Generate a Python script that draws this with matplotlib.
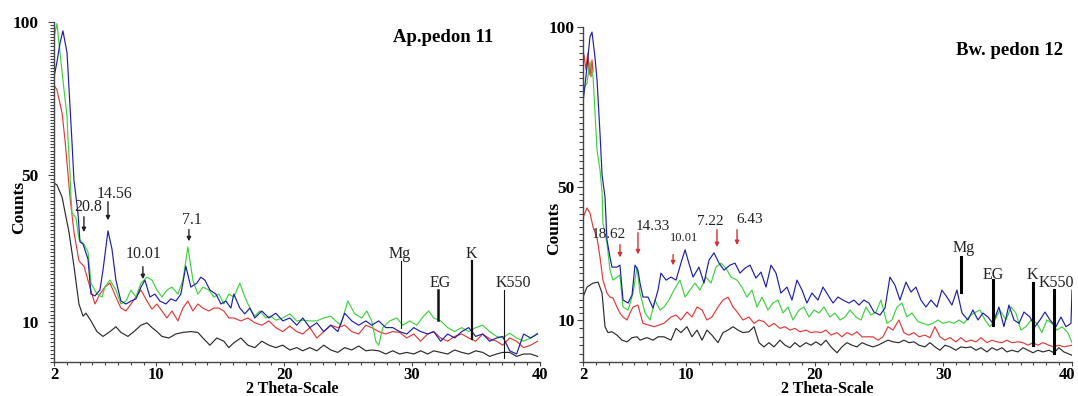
import numpy as np
import matplotlib
matplotlib.use("Agg")
import matplotlib.pyplot as plt
from matplotlib.ticker import FixedLocator, MultipleLocator
from matplotlib.transforms import ScaledTranslation

plt.rcParams['font.family'] = ['Liberation Serif', 'DejaVu Serif']

# ---------------- data : (2theta, counts) ----------------
# Ap. pedon 11
blue_11 = [(2.0,82.0),(2.23,86.9),(2.47,93.1),(2.7,97.1),(3.02,89.9),(3.41,60.5),(3.56,48.6),(3.88,39.4),(4.03,31.8),(4.27,31.2),(4.66,27.1),(4.89,17.6),(5.2,17.1),(5.59,18.7),(5.83,24.1),(6.22,34.8),(6.53,29.9),(6.84,21.4),(7.23,15.7),(7.63,14.9),(8.02,15.7),(8.41,16.3),(8.8,19.5),(9.11,21.4),(9.5,16.8),(9.89,17.6),(10.28,15.7),(10.75,14.9),(11.14,16.3),(11.53,15.7),(11.92,17.6),(12.31,25.2),(12.7,19.5),(13.17,20.6),(13.48,22.2),(13.8,21.4),(14.19,18.7),(14.66,17.6),(15.05,14.9),(15.44,15.7),(15.83,13.8),(16.06,17.6),(16.53,13.8),(16.92,12.2),(17.31,13.8),(17.7,11.1),(18.25,13.0),(18.8,11.1),(19.34,12.4),(19.89,10.3),(20.44,11.1),(20.98,9.6),(21.45,11.1),(22.0,9.3),(22.55,9.9),(23.09,8.8),(23.64,9.6),(24.19,8.8),(24.73,12.4),(25.28,10.3),(25.83,9.6),(26.38,10.3),(26.84,9.6),(27.39,10.3),(27.94,9.3),(28.48,9.3),(29.03,8.8),(29.58,8.5),(30.13,9.3),(30.67,8.8),(31.22,8.5),(31.69,8.8),(32.23,7.6),(32.78,8.5),(33.33,8.0),(33.88,8.8),(34.42,9.3),(34.97,8.2),(35.52,8.5),(36.06,7.6),(36.61,8.0),(37.08,8.2),(37.63,6.4),(38.17,6.0),(38.72,8.5),(39.27,8.0),(39.81,8.5)]
green_11 = [(2.0,95.0),(2.23,99.5),(2.47,89.9),(2.7,81.0),(3.02,69.0),(3.11,60.5),(3.25,50.6),(3.33,44.0),(3.41,39.7),(3.72,38.3),(3.95,32.6),(4.34,31.2),(4.66,29.0),(4.89,20.6),(5.36,17.6),(5.75,16.8),(5.98,19.5),(6.38,21.4),(6.84,18.7),(7.23,14.9),(7.63,15.7),(8.02,18.7),(8.41,16.8),(8.8,20.6),(9.27,22.2),(9.66,21.4),(10.05,18.7),(10.44,16.8),(10.83,18.7),(11.22,19.5),(11.69,17.6),(12.08,21.4),(12.47,30.4),(12.86,21.4),(13.25,17.6),(13.64,19.5),(14.11,18.7),(14.5,16.8),(14.89,17.6),(15.28,14.9),(15.67,17.6),(16.06,16.8),(16.53,20.6),(16.92,16.8),(17.31,13.8),(17.7,11.6),(18.09,13.0),(18.56,11.1),(18.95,11.6),(19.34,10.5),(19.89,11.1),(20.44,12.2),(20.98,10.3),(21.45,10.5),(22.0,10.3),(22.55,10.3),(23.09,11.1),(23.64,11.6),(24.03,10.3),(24.42,9.6),(24.97,15.7),(25.52,12.2),(26.06,11.1),(26.45,13.0),(26.84,10.3),(27.16,7.6),(27.39,7.1),(27.7,9.3),(28.25,10.3),(28.8,11.1),(29.27,9.6),(29.81,10.3),(30.36,9.6),(30.9,11.6),(31.3,13.0),(31.69,11.1),(32.23,10.3),(32.78,9.3),(33.33,8.8),(33.88,9.3),(34.42,8.8),(34.97,9.3),(35.52,9.6),(36.06,8.8),(36.61,8.2),(37.08,8.0),(37.63,8.6),(38.17,8.0),(38.72,7.6),(39.27,8.0),(39.81,8.6)]
red_11 = [(2.0,79.4),(2.23,77.8),(2.63,70.3),(2.86,61.4),(3.02,53.9),(3.25,44.0),(3.56,34.5),(3.95,26.6),(4.34,25.2),(4.81,19.5),(5.2,14.9),(5.59,17.6),(5.98,19.5),(6.38,20.6),(6.84,16.8),(7.23,13.8),(7.63,13.0),(8.02,14.9),(8.41,16.8),(8.8,18.7),(9.27,15.7),(9.66,13.5),(10.05,14.9),(10.44,13.0),(10.83,11.1),(11.22,13.0),(11.69,10.3),(12.08,13.8),(12.47,15.7),(12.86,13.0),(13.25,14.9),(13.64,13.8),(14.11,13.0),(14.5,13.8),(14.89,13.8),(15.28,13.0),(15.67,11.1),(16.06,11.1),(16.61,10.3),(17.16,11.1),(17.7,9.9),(18.25,9.6),(18.8,10.3),(19.34,9.3),(19.89,8.8),(20.44,9.5),(20.98,8.8),(21.45,8.5),(22.0,9.3),(22.55,8.0),(23.09,8.8),(23.64,9.6),(24.19,9.3),(24.73,9.6),(25.28,8.8),(25.83,8.5),(26.38,9.6),(26.84,9.3),(27.39,8.8),(27.94,8.5),(28.48,8.8),(29.03,8.7),(29.58,8.0),(30.13,8.5),(30.67,7.6),(31.22,8.5),(31.69,8.8),(32.23,8.0),(32.78,7.6),(33.33,8.2),(33.88,8.5),(34.42,8.0),(34.97,7.6),(35.52,8.5),(36.06,7.9),(36.61,7.6),(37.08,7.1),(37.63,8.0),(38.17,7.6),(38.72,6.8),(39.27,7.1),(39.81,7.6)]
black_11 = [(2.0,47.8),(2.23,47.3),(2.63,44.0),(3.17,34.5),(3.56,25.2),(3.95,14.9),(4.27,11.6),(4.5,12.4),(4.89,10.3),(5.36,8.8),(5.83,8.2),(6.38,8.8),(6.84,9.4),(7.23,8.7),(7.78,8.2),(8.25,8.8),(8.8,9.6),(9.27,9.9),(9.66,9.3),(10.05,8.8),(10.44,8.2),(10.98,8.0),(11.53,8.5),(12.08,8.7),(12.7,8.8),(13.25,8.7),(13.64,8.0),(14.19,7.1),(14.73,8.0),(15.28,7.6),(15.67,6.8),(16.06,7.4),(16.61,8.0),(17.16,7.1),(17.7,6.8),(18.25,7.6),(18.8,7.1),(19.34,6.8),(19.89,7.1),(20.44,6.5),(20.98,6.8),(21.45,6.4),(22.0,6.8),(22.55,6.4),(23.09,7.1),(23.64,6.5),(24.19,6.2),(24.73,6.8),(25.28,6.5),(25.83,7.0),(26.38,6.4),(26.84,6.5),(27.39,6.4),(27.94,6.0),(28.48,6.4),(29.03,6.0),(29.58,6.2),(30.13,6.0),(30.67,6.4),(31.22,6.0),(31.69,6.4),(32.23,6.2),(32.78,6.0),(33.33,6.5),(33.88,6.2),(34.42,6.0),(34.97,6.4),(35.52,6.2),(36.06,5.7),(36.61,6.0),(37.08,6.2),(37.63,6.2),(38.17,5.7),(38.72,6.0),(39.27,6.0),(39.81,5.7)]

# Bw. pedon 12
blue_12 = [(2.0,76.3),(2.31,87.5),(2.54,96.9),(2.7,98.4),(2.93,90.6),(3.09,83.4),(3.32,66.9),(3.48,53.8),(3.71,47.0),(3.86,34.1),(4.1,28.9),(4.25,25.9),(4.64,25.9),(4.87,26.5),(5.11,16.0),(5.5,15.1),(5.81,17.5),(6.04,26.5),(6.27,25.0),(6.43,21.1),(6.66,16.9),(7.05,16.9),(7.44,13.6),(7.83,19.0),(8.06,24.1),(8.45,22.0),(8.84,22.9),(9.23,22.0),(9.61,27.1),(9.93,31.1),(10.16,28.0),(10.55,22.9),(11.01,25.9),(11.4,21.1),(11.79,28.0),(12.18,30.2),(12.57,27.1),(12.96,25.0),(13.42,26.5),(13.81,27.1),(14.2,24.1),(14.59,25.6),(14.98,26.5),(15.44,22.6),(15.83,24.4),(16.22,19.9),(16.61,26.5),(17.0,24.1),(17.38,18.1),(17.85,19.9),(18.24,16.0),(18.63,22.0),(19.02,19.0),(19.4,15.1),(19.79,18.1),(20.26,16.0),(20.65,19.9),(21.04,17.5),(21.43,15.1),(21.81,16.9),(22.2,16.0),(22.67,15.1),(23.06,16.0),(23.45,14.5),(23.83,16.0),(24.22,15.1),(24.61,12.4),(25.08,11.5),(25.47,13.6),(25.85,22.9),(26.24,20.5),(26.63,16.0),(27.1,21.4),(27.49,18.4),(27.87,19.9),(28.26,16.0),(28.65,13.9),(29.04,16.0),(29.51,13.9),(29.89,19.0),(30.28,16.9),(30.67,14.5),(31.06,19.0),(31.45,12.1),(31.91,10.0),(32.3,13.0),(32.69,10.0),(33.08,12.1),(33.47,10.9),(33.86,9.6),(34.32,13.9),(34.71,9.2),(35.1,14.5),(35.49,10.0),(35.88,9.6),(36.27,12.4),(36.73,10.9),(37.12,9.2),(37.51,10.0),(37.9,12.4),(38.29,10.0),(38.75,9.2),(39.14,10.9),(39.53,9.2),(39.92,9.6),(40.0,19.0)]
green_12 = [(2.0,80.3),(2.31,82.5),(2.54,89.1),(2.78,84.4),(3.09,61.6),(3.32,55.3),(3.48,48.5),(3.55,39.2),(3.86,33.2),(4.1,25.0),(4.33,22.0),(4.87,23.5),(5.11,13.9),(5.5,13.0),(5.89,18.1),(6.2,25.9),(6.43,18.1),(6.82,12.1),(7.21,10.0),(7.59,16.0),(7.98,13.0),(8.29,13.9),(8.68,16.0),(9.07,19.0),(9.54,22.0),(9.93,16.9),(10.31,19.0),(10.7,21.1),(11.09,19.0),(11.56,22.9),(11.95,21.1),(12.33,25.9),(12.72,27.1),(13.11,25.6),(13.5,22.9),(13.97,22.0),(14.35,19.9),(14.74,16.9),(15.13,19.0),(15.52,13.9),(15.91,16.9),(16.37,13.0),(16.76,15.1),(17.15,16.0),(17.54,12.1),(17.93,13.9),(18.32,10.0),(18.78,13.0),(19.17,13.9),(19.56,10.9),(19.95,13.0),(20.34,12.1),(20.73,13.9),(21.19,10.9),(21.58,12.1),(21.97,10.0),(22.36,10.9),(22.75,13.0),(23.21,10.9),(23.6,10.0),(23.99,13.9),(24.38,11.5),(24.77,12.4),(25.15,16.0),(25.62,9.6),(26.01,10.0),(26.4,13.9),(26.79,15.1),(27.17,10.9),(27.56,12.1),(28.03,9.8),(28.42,9.6),(28.81,9.4),(29.2,9.6),(29.58,10.0),(29.97,9.6),(30.44,9.8),(30.83,9.6),(31.22,10.0),(31.6,9.6),(31.99,10.9),(32.38,12.1),(32.85,13.0),(33.24,10.0),(33.62,9.2),(34.01,10.0),(34.4,13.0),(34.87,10.0),(35.26,13.9),(35.64,12.1),(36.03,8.8),(36.42,9.2),(36.81,10.0),(37.28,9.6),(37.66,8.5),(38.05,10.0),(38.44,9.6),(38.83,8.8),(39.22,9.2),(39.68,8.5),(40.0,7.3)]
red_12 = [(2.0,40.7),(2.31,43.7),(2.54,42.2),(2.78,38.0),(3.09,34.7),(3.32,28.9),(3.55,22.0),(3.86,18.1),(4.1,16.9),(4.33,16.6),(4.64,13.9),(4.87,12.1),(5.11,10.9),(5.42,10.0),(5.65,12.1),(5.89,13.9),(6.27,14.5),(6.66,9.6),(7.52,9.2),(8.29,9.6),(8.84,10.9),(9.23,11.5),(9.61,10.0),(10.08,12.4),(10.47,10.9),(10.86,13.9),(11.25,13.0),(11.63,10.0),(12.02,10.9),(12.49,13.9),(12.88,16.0),(13.27,16.9),(13.66,13.9),(14.04,12.1),(14.43,10.0),(14.9,10.9),(15.29,9.6),(15.68,10.0),(16.06,9.8),(16.45,9.2),(16.84,9.6),(17.31,9.0),(17.7,9.2),(18.08,8.8),(18.47,9.0),(18.86,8.6),(19.33,8.8),(19.72,8.5),(20.1,8.6),(20.49,8.5),(20.88,8.8),(21.27,8.2),(21.74,8.5),(22.12,8.0),(22.51,8.5),(22.9,8.2),(23.29,8.6),(23.68,8.0),(24.14,8.0),(24.53,8.0),(24.92,7.6),(25.31,8.0),(25.7,9.2),(26.09,8.8),(26.55,10.0),(26.94,8.5),(27.33,8.2),(27.72,8.5),(28.11,8.0),(28.57,8.2),(28.96,7.9),(29.35,9.2),(29.74,8.0),(30.13,7.6),(30.52,7.9),(30.98,7.4),(31.37,7.9),(31.76,7.4),(32.15,7.6),(32.54,7.4),(32.93,7.9),(33.39,7.3),(33.78,7.6),(34.17,7.4),(34.56,7.3),(34.94,7.6),(35.33,7.3),(35.8,7.4),(36.19,7.3),(36.58,7.0),(36.97,7.3),(37.35,7.0),(37.74,7.3),(38.21,7.0),(38.6,6.8),(38.98,7.0),(39.37,6.8),(40.0,7.0)]
red_12_top = [(2.08,91.3),(2.23,86.6),(2.31,89.7),(2.39,91.9),(2.47,85.0),(2.54,88.1),(2.62,84.4),(2.7,89.7),(2.78,85.9)]
black_12 = [(2.0,16.9),(2.31,19.9),(2.78,21.1),(3.17,21.4),(3.48,18.1),(3.71,9.2),(3.94,8.5),(4.25,8.6),(4.64,8.2),(5.03,7.6),(5.42,7.4),(5.81,7.9),(6.2,8.0),(6.43,7.6),(6.97,7.9),(7.44,7.6),(7.83,8.0),(8.29,8.0),(8.84,7.6),(9.23,9.0),(9.61,8.5),(10.08,9.2),(10.47,8.0),(10.86,8.8),(11.25,7.6),(11.63,8.8),(12.02,8.2),(12.49,7.3),(12.88,8.5),(13.27,8.8),(13.66,9.2),(14.04,8.8),(14.43,8.5),(14.9,8.6),(15.29,9.2),(15.68,7.3),(16.06,6.8),(16.45,7.3),(16.84,6.8),(17.31,7.6),(17.7,7.0),(18.08,6.7),(18.47,7.3),(18.86,6.8),(19.33,7.3),(19.72,7.0),(20.1,7.4),(20.49,7.0),(20.88,7.6),(21.27,6.8),(21.74,6.1),(22.12,6.8),(22.51,7.3),(22.9,7.0),(23.29,6.8),(23.68,7.3),(24.14,7.0),(24.53,6.8),(24.92,7.0),(25.31,7.3),(25.7,7.6),(26.09,7.4),(26.55,7.3),(26.94,7.6),(27.33,7.3),(27.72,7.4),(28.11,7.0),(28.57,6.8),(28.96,7.3),(29.35,6.8),(29.74,6.4),(30.13,7.0),(30.52,6.8),(30.98,6.4),(31.37,6.8),(31.76,6.7),(32.15,6.8),(32.54,6.4),(32.93,6.7),(33.39,6.2),(33.78,6.7),(34.17,6.4),(34.56,6.7),(34.94,6.2),(35.33,6.4),(35.8,6.2),(36.19,6.7),(36.58,6.4),(36.97,6.1),(37.35,6.4),(37.74,6.2),(38.21,6.4),(38.6,6.1),(38.98,6.7),(39.37,6.2),(40.0,5.8)]

# peak labels: (text, text_x, text_y, line_x, line_top, line_bottom)
arrows_11 = [("20.8", 4.66, 41.3, 4.34, 39.4, 33.7),
             ("14.56", 6.77, 44.8, 6.22, 43.5, 36.9),
             ("10.01", 9.03, 28.5, 8.95, 25.8, 20.9),
             ("7.1", 12.78, 37.8, 12.55, 35.9, 31.2)]
lines_11 = [("Mg", 29.03, 28.5, 29.11, 26.6, 9.3, 0.8),
            ("EG", 32.16, 20.6, 32.0, 18.7, 10.5, 1.8),
            ("K", 34.66, 28.5, 34.66, 26.6, 7.9, 1.6),
            ("K550", 37.94, 20.6, 37.16, 18.7, 5.5, 0.8)]
arrows_12 = [("18.62", 4.02, 35.6, 4.87, 33.5, 28.0, 11),
             ("14.33", 7.44, 38.0, 6.27, 37.1, 28.9, 11),
             ("10.01", 9.85, 34.7, 9.0, 30.5, 25.6, 9),
             ("7.22", 11.87, 39.5, 12.41, 38.0, 31.1, 11),
             ("6.43", 14.98, 40.1, 13.97, 38.0, 31.7, 11)]
lines_12 = [("Mg", 31.6, 31.7, 31.37, 28.9, 18.4),
            ("EG", 33.86, 23.5, 33.86, 22.0, 9.4),
            ("K", 36.89, 23.5, 36.97, 21.1, 7.0),
            ("K550", 38.75, 21.1, 38.6, 19.0, 6.1)]

x_ticks = [2, 10, 20, 30, 40]
y_ticks = [10, 50, 100]

BLUE, GREEN, RED, BLACK = '#1f1fa6', '#3fd23f', '#e03a3a', '#2b2b2b'

W, H = 1078, 396
fig = plt.figure(figsize=(W / 100, H / 100), dpi=100)
ax1 = fig.add_axes([54 / W, 1 - 362 / H, 486 / W, 340 / H])
ax2 = fig.add_axes([583 / W, 1 - 362 / H, 489 / W, 335 / H])


def counts_scale(ax, us):
    cs = np.array([0, 5, 10, 50, 100, 1000.0])
    us = np.array(us, dtype=float)
    ax.set_yscale('function', functions=(lambda c: np.interp(c, cs, us),
                                         lambda u: np.interp(u, us, cs)))


counts_scale(ax1, [-40, 0, 40, 187, 340, 340 + 900 * 3.06])
counts_scale(ax2, [-42, 0, 42, 175, 335, 335 + 900 * 3.2])

bold = dict(fontweight='bold')


def style(ax, minor_y, ylab_xy, xlab_xy):
    ax.set_xlim(2, 40)
    ax.set_ylim(5, 100)
    for s in ('top', 'right'):
        ax.spines[s].set_visible(False)
    for s in ('left', 'bottom'):
        ax.spines[s].set_color('#444444')
        ax.spines[s].set_linewidth(1.0)
    ax.set_xticks(x_ticks)
    ax.xaxis.set_minor_locator(MultipleLocator(1))
    ax.set_yticks(y_ticks)
    ax.yaxis.set_minor_locator(FixedLocator(minor_y))
    ax.tick_params(axis='both', which='both', direction='out', color='#444444', width=0.8)
    ax.tick_params(axis='x', which='major', length=3, pad=0.5)
    ax.tick_params(axis='x', which='minor', length=2.5)
    ax.tick_params(axis='y', which='major', length=4)
    ax.tick_params(axis='y', which='minor', length=3)
    for lab in ax.get_xticklabels():
        lab.set_fontsize(12)
        lab.set_fontweight('bold')
    for lab in ax.get_yticklabels():
        lab.set_fontsize(12.5)
        lab.set_fontweight('bold')
    ax.set_xlabel('2 Theta-Scale', fontsize=11.5, **bold)
    ax.xaxis.set_label_coords(*xlab_xy)
    ax.set_ylabel('Counts', fontsize=12.5, **bold)
    ax.yaxis.set_label_coords(*ylab_xy)
    ax.set_facecolor('white')


minor_left = list(np.arange(5, 10, 0.5)) + list(np.arange(10, 100, 1))
minor_right = list(np.arange(5, 10, 1.0)) + list(np.arange(10, 100, 2))
style(ax1, minor_left, (-0.056, 0.455), (0.49, -0.057))
style(ax2, minor_right, (-0.042, 0.40), (0.5, -0.058))
ax1.tick_params(axis='y', which='major', pad=7)
ax2.tick_params(axis='y', which='major', pad=2)

# keep the right-most "40" inside the canvas
last = ax2.get_xticklabels()[-1]
last.set_transform(last.get_transform() + ScaledTranslation(-5 / 100, 0, fig.dpi_scale_trans))

lw = 0.85
for ax, series in ((ax1, [(black_11, BLACK), (red_11, RED), (green_11, GREEN), (blue_11, BLUE)]),
                   (ax2, [(black_12, BLACK), (red_12, RED), (red_12_top, RED), (green_12, GREEN), (blue_12, BLUE)])):
    for pts, col in series:
        xs, ys = np.array(pts).T
        ax.plot(xs, ys, color=col, lw=lw)

# titles
ax1.text(0.80, 0.953, 'Ap.pedon 11', transform=ax1.transAxes, ha='center', va='center', fontsize=13.5, **bold)
ax2.text(0.873, 0.931, 'Bw. pedon 12', transform=ax2.transAxes, ha='center', va='center', fontsize=13.5, **bold)

# annotations pedon 11
for txt, tx, ty, lx, yt, yb in arrows_11:
    ax1.text(tx, ty, txt, ha='center', va='center', fontsize=11.5, color='#222222')
    ax1.annotate('', xy=(lx, yb), xytext=(lx, yt),
                 arrowprops=dict(arrowstyle='-|>', color='#222222', lw=1.0, mutation_scale=6))
for txt, tx, ty, lx, yt, yb, w in lines_11:
    ax1.text(tx, ty, txt, ha='center', va='center', fontsize=11.5, color='#222222')
    ax1.plot([lx, lx], [yt, yb], color='#111111', lw=w)

# annotations pedon 12
for txt, tx, ty, lx, yt, yb, fs in arrows_12:
    ax2.text(tx, ty, txt, ha='center', va='center', fontsize=fs, color='#222222')
    ax2.annotate('', xy=(lx, yb), xytext=(lx, yt),
                 arrowprops=dict(arrowstyle='-|>', color='#d63030', lw=1.0, mutation_scale=6))
for txt, tx, ty, lx, yt, yb in lines_12:
    ax2.text(tx, ty, txt, ha='center', va='center', fontsize=11.5, color='#222222')
    ax2.plot([lx, lx], [yt, yb], color='#000000', lw=2.2)

fig.savefig('out.png', dpi=100, facecolor='white')
